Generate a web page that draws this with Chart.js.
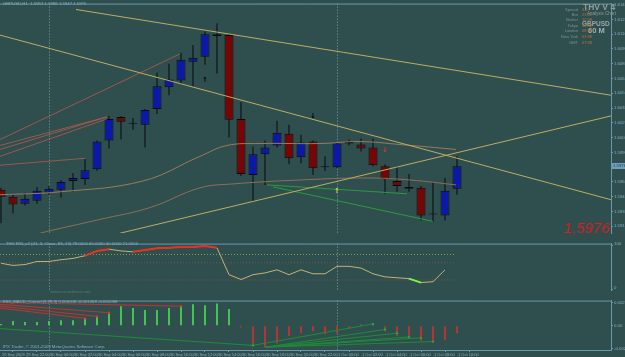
<!DOCTYPE html>
<html>
<head>
<meta charset="utf-8">
<script src="https://cdn.jsdelivr.net/npm/chart.js@4.4.1/dist/chart.umd.min.js"></script>
<style>
  html, body { margin: 0; padding: 0; background: #2f4f4f; overflow: hidden; }
  .pane { position: absolute; left: 0; width: 625px; }
</style>
</head>
<body>
<div class="pane" style="top:0;height:240px"><canvas id="price"></canvas></div>
<div class="pane" style="top:240px;height:57px"><canvas id="rsi"></canvas></div>
<div class="pane" style="top:297px;height:60px"><canvas id="macd"></canvas></div>
<script>
// GBPUSD H1, one bar an hour from 29 Sep 20:00 to 1 Oct 10:00
const open  = [1.5952,1.5945,1.5938,1.5941,1.5949,1.5952,1.5961,1.5963,1.5973,1.6002,1.6026,1.6019,1.6018,1.6034,1.6056,1.6063,1.6082,1.6087,1.6110,1.6109,1.6024,1.5967,1.5988,1.5997,1.6009,1.5985,1.6001,1.5975,1.5975,1.6001,1.5998,1.5995,1.5976,1.5961,1.5955,1.5954,1.5927,1.5926,1.5953];
const high  = [1.5954,1.5948,1.5949,1.5955,1.5956,1.5962,1.5969,1.5983,1.6002,1.6027,1.6027,1.6025,1.6034,1.6071,1.6080,1.6091,1.6099,1.6113,1.6121,1.6110,1.6041,1.5996,1.6002,1.6022,1.6018,1.6008,1.6002,1.5986,1.6000,1.6003,1.6004,1.6004,1.5978,1.5976,1.5968,1.5956,1.5960,1.5964,1.5986];
const low   = [1.5918,1.5928,1.5936,1.5938,1.5947,1.5944,1.5950,1.5957,1.5971,1.5994,1.6003,1.6013,1.5995,1.6029,1.6048,1.6060,1.6057,1.6079,1.6070,1.6005,1.5966,1.5940,1.5957,1.5995,1.5978,1.5979,1.5967,1.5971,1.5974,1.5997,1.5991,1.5976,1.5948,1.5950,1.5950,1.5921,1.5919,1.5921,1.5947];
const close = [1.5945,1.5937,1.5943,1.5951,1.5953,1.5960,1.5964,1.5972,1.6001,1.6024,1.6021,1.6019,1.6033,1.6057,1.6064,1.6084,1.6086,1.6110,1.6108,1.6023,1.5968,1.5988,1.5995,1.6010,1.5984,1.6000,1.5974,1.5975,1.5999,1.5999,1.5994,1.5977,1.5963,1.5956,1.5953,1.5926,1.5927,1.5951,1.5976];

// time axis: a label on every second bar
const timeIdx = [0,2,4,6,8,10,12,14,16,18,20,22,24,26,28,30,32,34,36,38];
const timeLabels = ["29 Sep 2009","29 Sep 22:00","30 Sep 00:00","30 Sep 02:00","30 Sep 04:00","30 Sep 06:00","30 Sep 08:00","30 Sep 10:00","30 Sep 12:00","30 Sep 14:00","30 Sep 16:00","30 Sep 18:00","30 Sep 20:00","30 Sep 22:00","1 Oct 00:00","1 Oct 02:00","1 Oct 04:00","1 Oct 06:00","1 Oct 08:00","1 Oct 10:00"];
const daySeparators = [4, 28];

const priceTicks = [1.6140,1.6125,1.6110,1.6095,1.6080,1.6065,1.6050,1.6035,1.6020,1.6005,1.5990,1.5975,1.5960,1.5945,1.5930,1.5915];

// drawn objects on the price pane: [bar index, price] end points
const trendA = [[6.25, 1.6135], [50.83, 1.6048]];
const trendB = [[-0.08, 1.6109], [50.83, 1.5942]];
const trendC = [[9.92, 1.5908], [50.83, 1.6027]];
const fanLines = [
  [[-0.08, 1.6003], [14.92, 1.6090]],
  [[-0.08, 1.5997], [8.83, 1.6026]],
  [[-0.08, 1.5993], [8.83, 1.6026]],
  [[-0.08, 1.5986], [8.83, 1.6024]],
  [[-0.08, 1.5977], [7.0, 1.5984]],
];
const maFast = [[-0.08,1.5947],[4.92,1.5950],[11.83,1.5961],[16.58,1.5986],[18.83,1.5997],[21.58,1.5999],[26.58,1.5999],[29.92,1.6001],[33.25,1.5998],[37.92,1.5993]];
const maSlow = [[1.58,1.5902],[3.25,1.5908],[8.25,1.5922],[12.42,1.5934],[16.58,1.5954],[19.33,1.5958],[24.92,1.5962],[30.5,1.5964],[34.08,1.5962],[37.92,1.5957]];
const priceDiv = [
  [[22.17, 1.5957], [33.83, 1.5948]],
  [[22.67, 1.5955], [36.0, 1.5920]],
];
const arrowIdx = [17, 26, 32, 28];
const arrowPrice = [1.6063, 1.6027, 1.5992, 1.5951];
const arrowGlyph = ['\u2191', '\u2193', '\u2193', '\u2191'];
const arrowColor = ['#000000', '#000000', '#e03030', '#e8d840'];

// THV RSI_v2
const rsi = [59,54,56,63,63,67,70,76,87,91,87,85,89,93,94,96,96,98,94,33,22,33,37,44,33,44,35,35,52,52,48,35,28,26,24,15,17,44];
const rsiHot = [null,null,null,null,null,null,null,76,87,91,null,85,89,93,94,96,96,98,94];
const rsiCold = [null,null,null,null,null,null,null,null,null,null,null,null,null,null,null,null,null,null,null,null,null,null,null,null,null,null,null,null,null,null,null,null,null,null,24,15];
const rsiLevels = [79, 60, 21];
const rsiLevelColors = ['#8ea040', '#8a4a48', '#8a4a48'];

// FX5_MACD_Correct histogram
const macd = [0.00018,0.00046,0.00037,0.00037,0.00046,0.00055,0.00055,0.00073,0.00092,0.00128,0.00193,0.00174,0.00156,0.00156,0.00174,0.00193,0.00211,0.00202,0.00220,0.00165,-0.00018,-0.00193,-0.00211,-0.00174,-0.00101,-0.00073,-0.00055,-0.00083,-0.00073,-0.00028,0.00009,0.00018,-0.00055,-0.00101,-0.00128,-0.00147,-0.00165,-0.00138,-0.00073];
const macdTicks = [0.00224, 0, -0.00224];
const macdBearDiv = [
  [[-0.08, 0.00229], [15, 0.00193]],
  [[-0.08, 0.00211], [9, 0.00128]],
  [[-0.08, 0.00193], [8, 0.00092]],
  [[-0.08, 0.00174], [7, 0.00073]],
];
const macdBullDiv = [
  [[-0.08, -0.00028], [21, -0.00193]],
  [[21, -0.00193], [31, 0.00018]],
  [[22, -0.00211], [32, -0.00037]],
  [[22, -0.00211], [33, -0.00073]],
  [[22, -0.00211], [34, -0.00110]],
  [[22, -0.00211], [35, -0.00119]],
  [[22, -0.00211], [36, -0.00156]],
];

const axisColor = '#6b98ad';
const textColor = '#86aec4';
const trendColor = '#bfab63';
const FONT = '"Liberation Sans", Arial, sans-serif';
const xMin = -1 / 12, xMax = 610 / 12;

Chart.defaults.font.family = FONT;

const seg = (pts, color, extra = {}) => ({
  type: 'line',
  data: pts.map(([x, y]) => ({ x, y })),
  borderColor: color,
  borderWidth: 1,
  pointRadius: 0,
  ...extra,
});

function xAxis(show) {
  return {
    type: 'linear', min: xMin, max: xMax, display: show, offset: false,
    afterBuildTicks: (s) => { s.ticks = timeIdx.map((v) => ({ value: v })); },
    afterFit: (s) => { s.height = 7; },
    ticks: {
      color: textColor, font: { size: 4 }, padding: 0, align: 'start', labelOffset: 1,
      maxRotation: 0, autoSkip: false,
      callback: (v) => timeLabels[timeIdx.indexOf(v)],
    },
    grid: { drawOnChartArea: false, tickLength: 2, color: axisColor },
    border: { color: axisColor },
  };
}

function yAxis(min, max, ticks, fmt, labelOffset = 0) {
  return {
    position: 'right', min, max,
    afterBuildTicks: (s) => { s.ticks = ticks.map((v) => ({ value: v })); },
    afterFit: (s) => { s.width = 14; },
    ticks: { color: textColor, font: { size: 4.3 }, padding: 1, autoSkip: false, labelOffset, callback: fmt },
    grid: { drawOnChartArea: false, tickLength: 2, color: axisColor },
    border: { color: axisColor },
  };
}

const baseOptions = (scales) => ({
  responsive: true,
  maintainAspectRatio: false,
  animation: false,
  layout: { padding: 0, autoPadding: false },
  plugins: { legend: { display: false }, tooltip: { enabled: false } },
  scales,
});

function txt(ctx, s, x, y, font, color, align = 'left') {
  ctx.font = font;
  ctx.fillStyle = color;
  ctx.textAlign = align;
  ctx.textBaseline = 'middle';
  ctx.fillText(s, x, y);
}

// day separators and pane borders
const paneFrame = {
  id: 'paneFrame',
  beforeDatasetsDraw(chart) {
    const { ctx, chartArea: a, scales: { x } } = chart;
    ctx.save();
    ctx.strokeStyle = '#7aa3b6';
    ctx.lineWidth = 1;
    ctx.setLineDash([1, 2]);
    daySeparators.forEach((i) => {
      const px = Math.round(x.getPixelForValue(i)) + 0.5;
      ctx.beginPath(); ctx.moveTo(px, a.top); ctx.lineTo(px, a.bottom); ctx.stroke();
    });
    ctx.setLineDash([]);
    ctx.strokeStyle = axisColor;
    ctx.beginPath(); ctx.moveTo(0, a.top + 0.5); ctx.lineTo(a.right, a.top + 0.5); ctx.stroke();
    ctx.restore();
  },
};

const priceDecor = {
  id: 'priceDecor',
  afterDraw(chart) {
    const { ctx, scales: { x, y } } = chart;
    ctx.save();
    arrowIdx.forEach((i, k) => {
      txt(ctx, arrowGlyph[k], x.getPixelForValue(i), y.getPixelForValue(arrowPrice[k]),
        'bold 7px "DejaVu Sans"', arrowColor[k], 'center');
    });
    // last price marker on the axis
    const last = close[close.length - 1];
    const py = Math.round(y.getPixelForValue(last));
    ctx.fillStyle = '#6f9fbd';
    ctx.fillRect(612, py - 3, 13, 6);
    txt(ctx, last.toFixed(4), 613, py, '4.3px ' + FONT, '#23403f');

    const o = open.length - 1;
    txt(ctx, 'GBPUSD,H1  ' + [open[o], high[o], low[o], close[o]].map((v) => v.toFixed(4)).join(' '),
      3, 4, '4.3px ' + FONT, textColor);

    txt(ctx, 'THV V 4', 583, 8, 'bold 8.5px ' + FONT, '#8e9c9c');
    txt(ctx, 'Analysis Chart', 587, 14, '4.5px ' + FONT, '#8c9a9a');
    txt(ctx, 'GBPUSD', 582, 24, 'bold 6.5px ' + FONT, '#98a4a4');
    txt(ctx, '60 M', 588, 31, 'bold 7.5px ' + FONT, '#a3adad');
    const rows = ['Spread', 'Bar', 'Broker', 'Tokyo', 'London', 'New York', 'GMT'];
    const vals = ['3.0', '21:22', '10:38', '16:38', '08:38', '03:38', '07:38'];
    const ys = [10, 15, 20, 26, 31, 37, 43];
    rows.forEach((r, k) => {
      txt(ctx, r, 578, ys[k], '4px ' + FONT, '#7f8f8f', 'right');
      txt(ctx, vals[k], 582, ys[k], '4px ' + FONT, '#b8743a');
    });
    txt(ctx, last.toFixed(4), 610, 229, 'italic 15px ' + FONT, '#e01c1c', 'right');
    ctx.restore();
  },
};

new Chart(document.getElementById('price'), {
  type: 'bar',
  data: {
    datasets: [
      seg(trendA, trendColor),
      seg(trendB, trendColor),
      seg(trendC, trendColor),
      ...fanLines.map((f) => seg(f, 'rgba(180,90,80,0.8)')),
      seg(maFast, '#9c7a5e', { tension: 0.4 }),
      seg(maSlow, '#8e6e56', { tension: 0.4 }),
      ...priceDiv.map((d) => seg(d, '#2b9a3c')),
      {
        label: 'bodies',
        data: open.map((o, i) => ({ x: i, y: [o, close[i]] })),
        backgroundColor: open.map((o, i) => (close[i] > o ? '#0c18a8' : close[i] < o ? '#760505' : '#0b0b0b')),
        borderColor: '#0b0b0b',
        borderWidth: 1,
        borderSkipped: false,
        grouped: false,
        barPercentage: 1,
        maxBarThickness: 9,
        minBarLength: 1,
      },
      {
        label: 'wicks',
        data: low.map((l, i) => ({ x: i, y: [l, high[i]] })),
        backgroundColor: '#0b0b0b',
        borderWidth: 0,
        grouped: false,
        barPercentage: 1,
        maxBarThickness: 1,
      },
    ],
  },
  options: baseOptions({
    x: xAxis(false),
    y: yAxis(1.59082, 1.61410, priceTicks, (v) => v.toFixed(4)),
  }),
  plugins: [paneFrame, priceDecor],
});

const rsiDecor = {
  id: 'rsiDecor',
  afterDraw(chart) {
    const { ctx } = chart;
    ctx.save();
    txt(ctx, 'THV RSI_v2 (41, 3, Close, 83, 13) 79.0000 60.0000 40.0000 21.0000', 6, 3.5, '4.3px ' + FONT, textColor);
    txt(ctx, 'www.cocoaforex.com', 50, 52, '4.3px ' + FONT, '#567878');
    ctx.restore();
  },
};

new Chart(document.getElementById('rsi'), {
  type: 'line',
  data: {
    datasets: [
      seg(rsiCold.map((v, i) => [i, v]), '#7cf04a', { borderWidth: 2 }),
      seg(rsiHot.map((v, i) => [i, v]), '#e8321e', { borderWidth: 2 }),
      seg(rsi.map((v, i) => [i, v]), '#c6b272'),
      ...rsiLevels.map((lv, k) => seg([[xMin, lv], [37.8, lv]], rsiLevelColors[k], { borderDash: [1, 2] })),
    ],
  },
  options: baseOptions({
    x: xAxis(false),
    y: yAxis(-1.85, 103.7, [100, 0], (v) => String(v), -1),
  }),
  plugins: [paneFrame, rsiDecor],
});

const macdDecor = {
  id: 'macdDecor',
  afterDraw(chart) {
    const { ctx } = chart;
    ctx.save();
    txt(ctx, 'FX5_MACD_Correct(3,29,3) 0.000008 -0.001068 -0.001068', 3, 5, '4.3px ' + FONT, textColor);
    txt(ctx, 'IPX Trader, \u00a9 2001-2009 MetaQuotes Software Corp.', 3, 50, '4.3px ' + FONT, textColor);
    ctx.restore();
  },
};

new Chart(document.getElementById('macd'), {
  type: 'bar',
  data: {
    datasets: [
      ...macdBearDiv.map((d) => seg(d, '#c2332f', { pointRadius: [0, 1.2], pointBackgroundColor: '#d03a30', pointBorderWidth: 0 })),
      ...macdBullDiv.map((d) => seg(d, '#1f8a38', { pointRadius: [0, 1.2], pointBackgroundColor: '#2aa040', pointBorderWidth: 0 })),
      {
        data: macd.map((v, i) => ({ x: i, y: v })),
        backgroundColor: macd.map((v) => (v >= 0 ? '#43c44f' : '#b23636')),
        borderWidth: 0,
        grouped: false,
        barPercentage: 1,
        maxBarThickness: 2,
      },
    ],
  },
  options: baseOptions({
    x: xAxis(true),
    y: yAxis(-0.002384, 0.002476, macdTicks, (v) => (v === 0 ? '0.00' : v.toFixed(6))),
  }),
  plugins: [paneFrame, macdDecor],
});
</script>
</body>
</html>
